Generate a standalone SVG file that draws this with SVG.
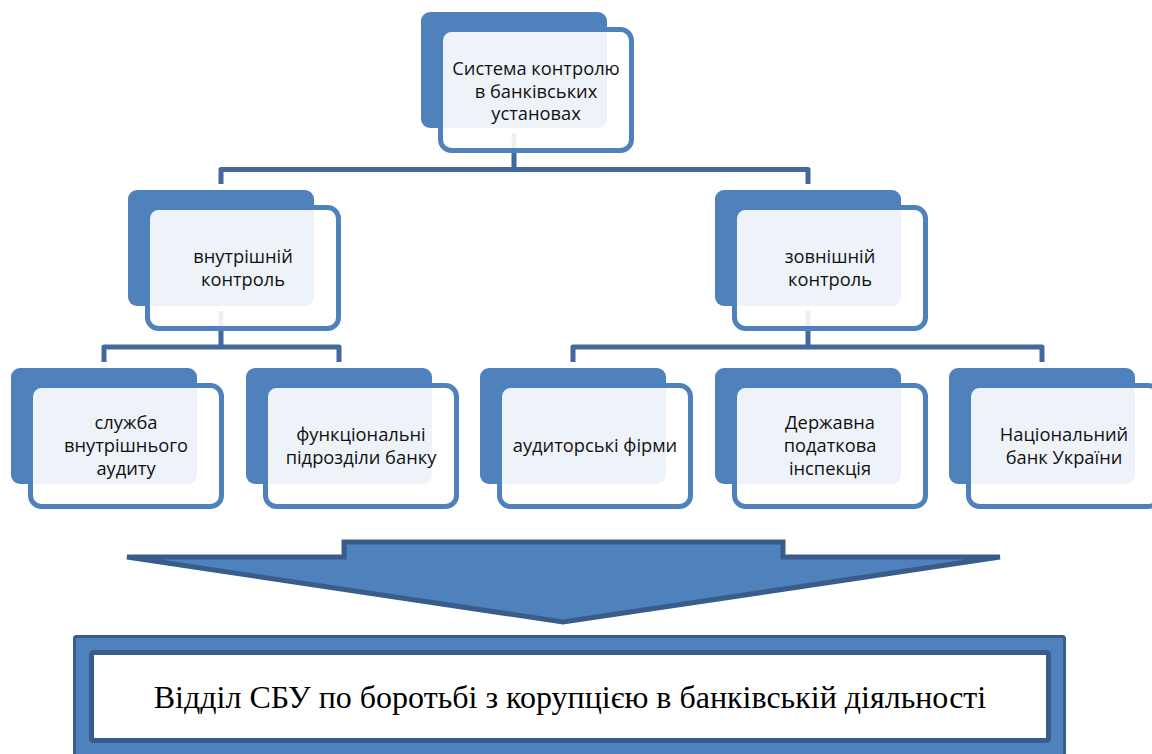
<svg xmlns="http://www.w3.org/2000/svg" width="1152" height="754" viewBox="0 0 1152 754">
<defs>
<style>
.back{fill:#4f81bd;}
.front{fill:#ffffff;fill-opacity:0.9;stroke:#4f81bd;stroke-width:5;}
.conn{fill:none;stroke:#41699b;stroke-width:5;stroke-linejoin:round;}
.lbl{font-family:"Open Sans","Noto Sans","Liberation Sans",sans-serif;font-size:18.3px;fill:#111111;text-anchor:middle;}
.big{font-family:"Liberation Serif","Times New Roman",serif;font-size:32px;fill:#000000;text-anchor:middle;}
</style>
</defs>
<rect width="1152" height="754" fill="#ffffff"/>
<g id="connectors">
<path class="conn" d="M514,133 V169.5 M221,184 V169.5 H808 V184"/>
<path class="conn" d="M221,311 V347 M104,362 V347 H339 V362"/>
<path class="conn" d="M808,311 V347 M573,362 V347 H1042 V362"/>
</g>
<g id="n-top">
<rect class="back" x="421" y="12" width="186" height="116" rx="9"/>
<rect class="front" x="440.5" y="29.5" width="191" height="121" rx="11"/>
<text class="lbl"><tspan x="536" y="75">Система контролю</tspan><tspan x="536" y="97.5">в банківських</tspan><tspan x="536" y="120">установах</tspan></text>
</g>
<g id="n-internal">
<rect class="back" x="128" y="190" width="186" height="116" rx="9"/>
<rect class="front" x="147.5" y="207.5" width="191" height="121" rx="11"/>
<text class="lbl"><tspan x="243" y="263">внутрішній</tspan><tspan x="243" y="286">контроль</tspan></text>
</g>
<g id="n-external">
<rect class="back" x="715" y="190" width="186" height="116" rx="9"/>
<rect class="front" x="734.5" y="207.5" width="191" height="121" rx="11"/>
<text class="lbl"><tspan x="830" y="263">зовнішній</tspan><tspan x="830" y="286">контроль</tspan></text>
</g>
<g id="n-audit">
<rect class="back" x="11" y="368" width="186" height="116" rx="9"/>
<rect class="front" x="30.5" y="385.5" width="191" height="121" rx="11"/>
<text class="lbl"><tspan x="126" y="429">служба</tspan><tspan x="126" y="452">внутрішнього</tspan><tspan x="126" y="475">аудиту</tspan></text>
</g>
<g id="n-functional">
<rect class="back" x="246" y="368" width="186" height="116" rx="9"/>
<rect class="front" x="265.5" y="385.5" width="191" height="121" rx="11"/>
<text class="lbl"><tspan x="361" y="440.5">функціональні</tspan><tspan x="361" y="463.5">підрозділи банку</tspan></text>
</g>
<g id="n-firms">
<rect class="back" x="480" y="368" width="186" height="116" rx="9"/>
<rect class="front" x="499.5" y="385.5" width="191" height="121" rx="11"/>
<text class="lbl" x="595" y="452">аудиторські фірми</text>
</g>
<g id="n-tax">
<rect class="back" x="715" y="368" width="186" height="116" rx="9"/>
<rect class="front" x="734.5" y="385.5" width="191" height="121" rx="11"/>
<text class="lbl"><tspan x="830" y="429">Державна</tspan><tspan x="830" y="452">податкова</tspan><tspan x="830" y="475">інспекція</tspan></text>
</g>
<g id="n-nbu">
<rect class="back" x="949" y="368" width="186" height="116" rx="9"/>
<rect class="front" x="968.5" y="385.5" width="191" height="121" rx="11"/>
<text class="lbl"><tspan x="1064" y="440.5">Національний</tspan><tspan x="1064" y="463.5">банк України</tspan></text>
</g>
<g id="arrow">
<path d="M344,542 L783,542 L783,557 L1000,557 L563,622 L127,557 L344,557 Z" fill="#4f81bd" stroke="#385d8a" stroke-width="5" stroke-miterlimit="4"/>
</g>
<g id="n-sbu">
<rect x="74.5" y="636.5" width="990" height="125" fill="#4f81bd" stroke="#385d8a" stroke-width="3" rx="2"/>
<rect x="91.5" y="652.5" width="957" height="88" fill="#ffffff" stroke="#385d8a" stroke-width="5" rx="2"/>
<text class="big" x="570" y="708">Відділ СБУ по боротьбі з корупцією в банківській діяльності</text>
</g>
</svg>
